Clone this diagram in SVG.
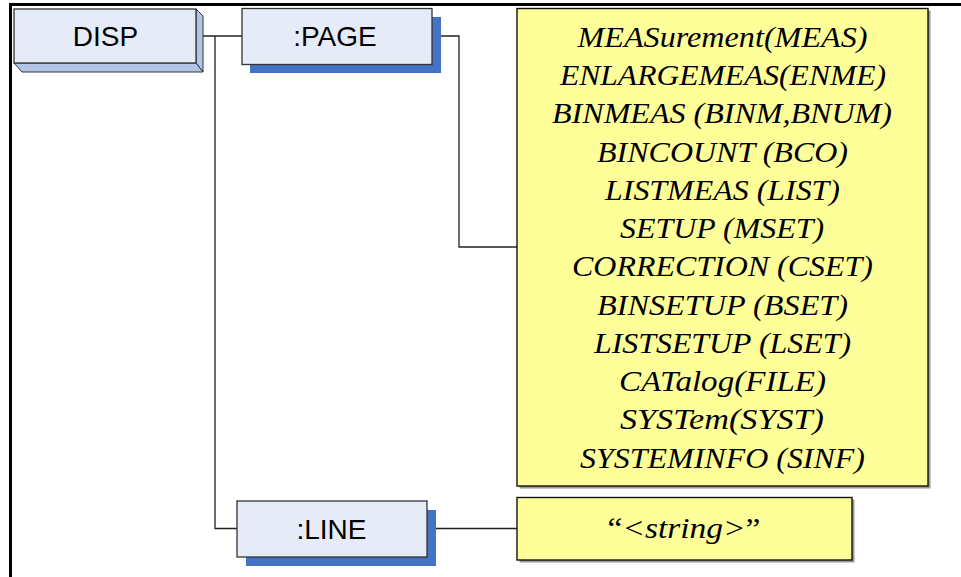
<svg xmlns="http://www.w3.org/2000/svg" width="961" height="577" viewBox="0 0 961 577">
<style>
.frame{stroke:#000;stroke-width:3;fill:none}
.conn{stroke:#222;stroke-width:1.3;fill:none}
.face{fill:#E6ECF7;stroke:#333;stroke-width:1.3}
.side{fill:#B0C5E8;stroke:#333;stroke-width:1}
.shadow{fill:#4472C4}
.ybox{fill:#FFFF99;stroke:#111;stroke-width:1.4}
.yshadow{fill:#9a9a9a}
.lbl{font-family:'Liberation Sans',Arial,sans-serif;font-size:28px;fill:#000;text-anchor:middle}
.cmd{font-family:'Liberation Serif','Times New Roman','DejaVu Serif',serif;font-style:italic;font-size:28.5px;fill:#000;text-anchor:middle}
</style>
<rect x="0" y="0" width="961" height="577" fill="#fff"/>
<path class="frame" d="M10.5,577 V4.5 H961"/>
<g id="connectors">
<path class="conn" d="M196,36 H242"/>
<path class="conn" d="M215,36 V528.5 H237"/>
<path class="conn" d="M432,36 H459 V247 H517"/>
<path class="conn" d="M427,528.5 H517"/>
</g>
<g id="disp">
<polygon class="side" points="196,9 203,16 203,72 196,63"/>
<polygon class="side" points="14,63 196,63 203,72 22,72"/>
<rect class="face" x="14" y="9" width="182" height="54"/>
<text class="lbl" x="105.5" y="46">DISP</text>
</g>
<g id="page">
<rect class="shadow" x="250" y="17" width="191" height="56"/>
<rect class="face" x="242" y="8.5" width="190" height="56"/>
<text class="lbl" x="335" y="46">:PAGE</text>
</g>
<g id="line">
<rect class="shadow" x="246" y="510" width="190" height="56"/>
<rect class="face" x="237" y="501" width="190" height="56"/>
<text class="lbl" x="331.5" y="538.5">:LINE</text>
</g>
<g id="page-commands" font-family="'Liberation Serif','Times New Roman',serif">
<rect class="yshadow" x="519.5" y="10.5" width="411" height="478"/>
<rect class="ybox" x="517" y="8.5" width="411" height="477.5"/>
<text class="cmd" x="722.5" y="46.7" textLength="290" lengthAdjust="spacingAndGlyphs">MEASurement(MEAS)</text>
<text class="cmd" x="723" y="85" textLength="326" lengthAdjust="spacingAndGlyphs">ENLARGEMEAS(ENME)</text>
<text class="cmd" x="722" y="123.2" textLength="340" lengthAdjust="spacingAndGlyphs">BINMEAS (BINM,BNUM)</text>
<text class="cmd" x="722.5" y="161.5" textLength="251" lengthAdjust="spacingAndGlyphs">BINCOUNT (BCO)</text>
<text class="cmd" x="722.5" y="199.8" textLength="235" lengthAdjust="spacingAndGlyphs">LISTMEAS (LIST)</text>
<text class="cmd" x="722" y="238" textLength="204" lengthAdjust="spacingAndGlyphs">SETUP (MSET)</text>
<text class="cmd" x="722.5" y="276.3" textLength="301" lengthAdjust="spacingAndGlyphs">CORRECTION (CSET)</text>
<text class="cmd" x="722.5" y="314.6" textLength="251" lengthAdjust="spacingAndGlyphs">BINSETUP (BSET)</text>
<text class="cmd" x="722.5" y="352.8" textLength="257" lengthAdjust="spacingAndGlyphs">LISTSETUP (LSET)</text>
<text class="cmd" x="722.5" y="391.1" textLength="207" lengthAdjust="spacingAndGlyphs">CATalog(FILE)</text>
<text class="cmd" x="722" y="429.4" textLength="204" lengthAdjust="spacingAndGlyphs">SYSTem(SYST)</text>
<text class="cmd" x="722.5" y="467.7" textLength="285" lengthAdjust="spacingAndGlyphs">SYSTEMINFO (SINF)</text>
</g>
<g id="line-arg">
<rect class="yshadow" x="519.5" y="499.5" width="335" height="63"/>
<rect class="ybox" x="517" y="497.5" width="335" height="62.5"/>
<text class="cmd" x="684" y="538" textLength="153" lengthAdjust="spacingAndGlyphs"><tspan font-style="normal">“</tspan>&lt;string&gt;<tspan font-style="normal">”</tspan></text>
</g>
</svg>
